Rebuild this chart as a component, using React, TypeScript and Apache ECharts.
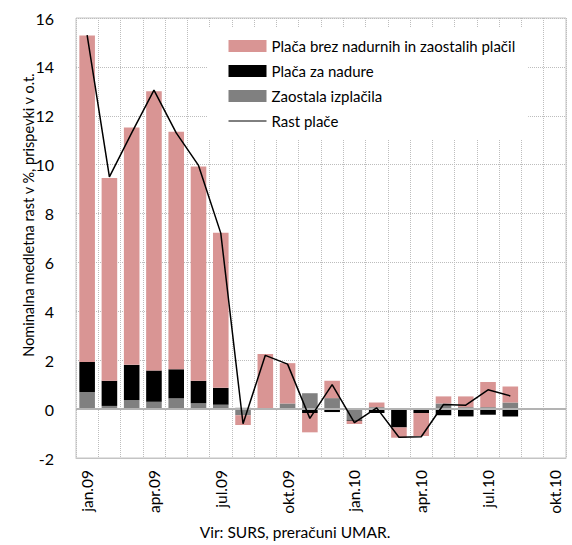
import React, { useEffect, useRef } from "react";
import * as echarts from "echarts";

const categories = [
  "jan.09", "feb.09", "mar.09", "apr.09", "maj.09", "jun.09", "jul.09", "avg.09", "sep.09", "okt.09", "nov.09", "dec.09",
  "jan.10", "feb.10", "mar.10", "apr.10", "maj.10", "jun.10", "jul.10", "avg.10", "sep.10", "okt.10",
];

const placaBrez = [13.35, 8.29, 9.71, 11.42, 9.72, 8.77, 6.34, -0.4, 2.2, 1.65, -0.79, 0.71, -0.13, 0.19, -0.42, -0.94, 0.29, 0.44, 1.03, 0.66];
const placaNadure = [1.23, 1.03, 1.44, 1.28, 1.19, 0.92, 0.69, 0.05, 0.05, 0, -0.16, -0.12, -0.03, -0.16, -0.75, -0.16, -0.25, -0.3, -0.23, -0.3];
const zaostala = [0.7, 0.13, 0.37, 0.3, 0.44, 0.24, 0.18, -0.25, 0, 0.23, 0.65, 0.45, -0.45, 0.08, 0, 0, 0.23, 0.08, 0.08, 0.27];
const rastPlace = [15.3, 9.5, 11.3, 13.05, 11.3, 9.97, 7.2, -0.6, 2.2, 1.84, -0.38, 1.0, -0.55, 0.05, -1.15, -1.13, 0.19, 0.16, 0.79, 0.54];

const FONT = "Lato";

export default function App() {
  const ref = useRef<HTMLDivElement>(null);
  useEffect(() => {
    if (!ref.current) return;
    const chart = echarts.init(ref.current, null, { renderer: "svg" });
    chart.setOption({
      animation: false,
      textStyle: { fontFamily: FONT, color: "#000" },
      grid: { left: 76, right: 6, top: 18, bottom: 87, show: true, borderColor: "#c4c4c4", borderWidth: 1, backgroundColor: "transparent" },
      legend: {
        orient: "vertical",
        left: 208,
        top: 28,
        padding: [10, 13, 10, 20],
        backgroundColor: "#fff",
        itemWidth: 38,
        itemHeight: 12,
        itemGap: 9,
        textStyle: { fontFamily: FONT, fontSize: 15, color: "#000", lineHeight: 16 },
        data: [
          { name: "Plača brez nadurnih in zaostalih plačil", icon: "rect" },
          { name: "Plača za nadure", icon: "rect" },
          { name: "Zaostala izplačila", icon: "rect" },
          { name: "Rast plače", itemStyle: { opacity: 0, color: "transparent", borderWidth: 0 }, lineStyle: { width: 1, color: "#000" } },
        ],
      },
      xAxis: {
        type: "category",
        data: categories,
        boundaryGap: true,
        axisLine: { onZero: false, lineStyle: { color: "#c4c4c4" } },
        axisTick: { show: false },
        axisLabel: { interval: 2, rotate: 90, margin: 12, fontSize: 15.5, fontFamily: FONT, color: "#000" },
        splitLine: { show: true, interval: 0, lineStyle: { type: "dotted", color: "#bdbdbd", width: 1 } },
      },
      yAxis: {
        type: "value",
        min: -2,
        max: 16,
        interval: 2,
        axisLine: { show: false },
        axisTick: { show: false },
        axisLabel: { margin: 22, fontSize: 16, fontFamily: FONT, color: "#000" },
        splitLine: { show: true, lineStyle: { type: "dotted", color: "#bdbdbd", width: 1 } },
      },
      graphic: [
        {
          type: "text",
          x: 28,
          y: 215,
          rotation: Math.PI / 2,
          style: {
            text: "Nominalna medletna rast v %, prispevki v o.t.",
            fontFamily: FONT,
            fontSize: 14.5,
            fill: "#000",
            textAlign: "center",
            textVerticalAlign: "middle",
          },
        },
        {
          type: "text",
          x: 295,
          y: 532,
          style: {
            text: "Vir: SURS, preračuni UMAR.",
            fontFamily: FONT,
            fontSize: 15.5,
            fill: "#000",
            textAlign: "center",
            textVerticalAlign: "middle",
          },
        },
      ],
      series: [
        {
          name: "Zaostala izplačila",
          type: "bar",
          stack: "s",
          barWidth: "70%",
          itemStyle: { color: "#808080" },
          data: zaostala,
        },
        {
          name: "Plača za nadure",
          type: "bar",
          stack: "s",
          barWidth: "70%",
          itemStyle: { color: "#000000" },
          data: placaNadure,
        },
        {
          name: "Plača brez nadurnih in zaostalih plačil",
          type: "bar",
          stack: "s",
          barWidth: "70%",
          itemStyle: { color: "#d99594" },
          data: placaBrez,
        },
        {
          name: "Rast plače",
          type: "line",
          symbol: "none",
          showSymbol: false,
          lineStyle: { color: "#000", width: 1.5 },
          itemStyle: { color: "#000" },
          data: rastPlace,
          z: 5,
          markLine: {
            silent: true,
            symbol: "none",
            label: { show: false },
            lineStyle: { color: "#b3b3b3", width: 2, type: "solid" },
            data: [{ yAxis: 0 }],
            z: 4,
          },
        },
      ],
    });
    return () => chart.dispose();
  }, []);
  return <div ref={ref} style={{ width: 572, height: 545, position: "absolute", left: 0, top: 0 }} />;
}
